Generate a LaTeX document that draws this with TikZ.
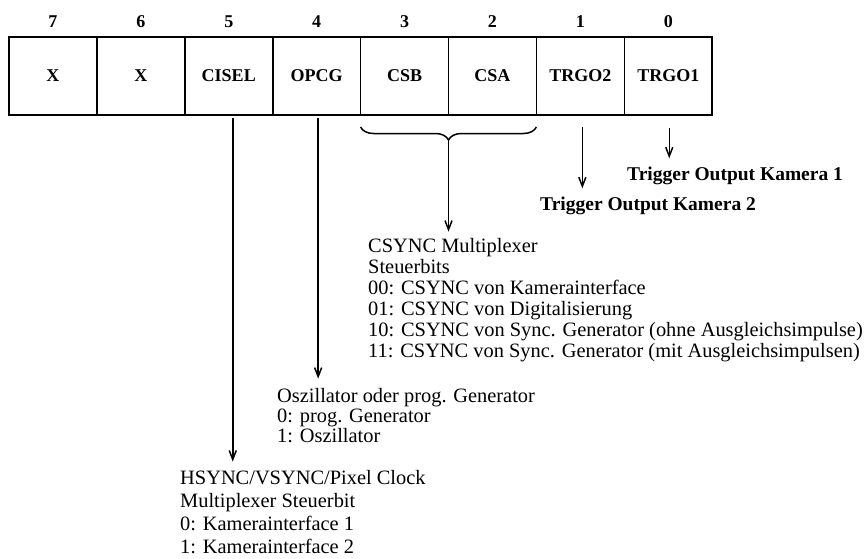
\documentclass[tikz,border=0pt]{standalone}
\usepackage{fontspec}
\setmainfont{Liberation Serif}
\usetikzlibrary{arrows.meta,decorations.pathreplacing,calc}
\begin{document}
\begin{tikzpicture}[x=1pt,y=-1pt,
  cell/.style={draw, line width=1.6pt, minimum width=87.9pt, minimum height=78pt, inner sep=0pt, outer sep=0pt, font=\fontsize{18}{20}\selectfont\bfseries},
  bitnum/.style={font=\fontsize{18}{20}\selectfont\bfseries, anchor=base, inner sep=0pt},
  desc/.style={font=\fontsize{20.4}{21}\selectfont, align=left, anchor=base west, inner sep=0pt},
  trig/.style={font=\fontsize{19.5}{21}\selectfont\bfseries, anchor=base west, inner sep=0pt},
  arr/.style={line width=1.5pt, -{Straight Barb[length=9pt,width=7pt]}}]
\useasboundingbox (0,0) rectangle (865,558);
\foreach \i/\t/\b in {0/X/7,1/X/6,2/CISEL/5,3/OPCG/4,4/CSB/3,5/CSA/2,6/TRGO2/1,7/TRGO1/0}{
  \node[cell] (c\b) at ({9+87.9*(\i+0.5)},76) {\t};
  \node[bitnum] (n\b) at ({9+87.9*(\i+0.5)},27) {\b};
}
% brace
\draw[decorate, decoration={brace, mirror, amplitude=13pt}, line width=1.5pt]
  ($(c3.south west)+(0,12)$) -- ($(c2.south east)+(0,12)$);
\coordinate (bt) at ($(c3.south east)+(0,25)$);
% texts (anchor = baseline of last line)
\node[desc] (csync) at (368,357) {CSYNC Multiplexer\\Steuerbits\\00: CSYNC von Kamerainterface\\01: CSYNC von Digitalisierung\\10: CSYNC von Sync. Generator (ohne Ausgleichsimpulse)\\11: CSYNC von Sync. Generator (mit Ausgleichsimpulsen)};
\node[desc, font=\fontsize{20.4}{20}\selectfont] (osz) at (277,442) {Oszillator oder prog. Generator\\0: prog. Generator\\1: Oszillator};
\node[desc, font=\fontsize{20.4}{22.7}\selectfont] (hsync) at (180,553) {HSYNC/VSYNC/Pixel Clock\\Multiplexer Steuerbit\\0: Kamerainterface 1\\1: Kamerainterface 2};
\node[trig] (t2) at (540,210) {Trigger Output Kamera 2};
\node[trig] (t1) at (627,180) {Trigger Output Kamera 1};
% arrows
\draw[arr] (bt) -- ($(bt |- csync.north)+(0,-6)$);
\draw[arr] ($(c4.south)+(1.5,3)$) -- ($(c4.south |- osz.north)+(1.5,-9)$);
\draw[arr] ($(c5.south)+(4,3)$) -- ($(c5.south |- hsync.north)+(4,-9)$);
\draw[arr] ($(c1.south)+(2,12)$) -- ($(c1.south |- t2.north)+(2,-8)$);
\draw[arr] ($(c0.south)+(1,13)$) -- ($(c0.south |- t1.north)+(1,-8)$);
\end{tikzpicture}
\end{document}
